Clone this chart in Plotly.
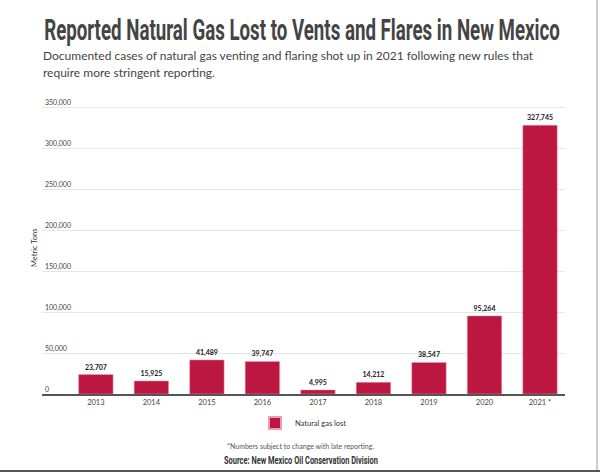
import plotly.graph_objects as go

years = ["2013", "2014", "2015", "2016", "2017", "2018", "2019", "2020", "2021 *"]
gas_lost = [23707, 15925, 41489, 39747, 4995, 14212, 38547, 95264, 327745]
y_ticks = [0, 50000, 100000, 150000, 200000, 250000, 300000, 350000]
y_tick_labels = ["0", "50,000", "100,000", "150,000", "200,000", "250,000", "300,000", "350,000"]

BAR = "#BC1740"
HEAD = "Roboto"

fig = go.Figure()
fig.add_trace(go.Bar(
    x=years, y=gas_lost, name="Natural gas lost",
    marker=dict(color=BAR, line=dict(color="#E8A0B0", width=0.5)),
    width=0.62,
    text=[f"{v:,}" for v in gas_lost], textposition="outside",
    textfont=dict(family="Lato", size=7, color="#222", weight="bold"),
    cliponaxis=False,
))

W, H = 600, 473
L, R, T, B = 42, 35, 96, 79
PW, PH = W - L - R, H - T - B
Y_TOP = 350000 * PH / 287.0  # 350,000 gridline sits ~287 px above the baseline

def px(x):
    return (x - L) / PW

def py(y):
    return (H - B - y) / PH

fig.update_layout(
    width=W, height=H,
    margin=dict(l=L, r=R, t=T, b=B, autoexpand=False),
    paper_bgcolor="white", plot_bgcolor="white",
    showlegend=True,
    legend=dict(orientation="h", x=0.5, xanchor="center", y=py(423), yanchor="middle",
                font=dict(family="Lato", size=7.5, color="#333"), itemsizing="constant",
                itemwidth=30),
    xaxis=dict(
        type="category", range=[-0.97, 8.45],
        showline=True, linecolor="#555", linewidth=1.5,
        ticks="", tickfont=dict(family="Lato", size=7.5, color="#444"),
        showgrid=False, fixedrange=True, automargin=False,
    ),
    yaxis=dict(
        range=[0, Y_TOP], tickvals=y_ticks, ticktext=y_tick_labels,
        ticklabelposition="inside top", automargin=False, fixedrange=True,
        tickfont=dict(family="Lato", size=7, color="#444"),
        showgrid=True, gridcolor="#E6E6E6", gridwidth=1,
        zeroline=False, showline=False, ticks="",
    ),
    annotations=[
        dict(text="Metric Tons", xref="paper", yref="paper", x=px(35), y=py(248),
             xanchor="center", yanchor="middle", textangle=-90, showarrow=False,
             font=dict(family="Lato", size=7.5, color="#333")),
        dict(text="<b>Reported Natural Gas Lost to Vents and Flares in New Mexico</b>",
             xref="paper", yref="paper", x=px(42), y=py(30), xanchor="left", yanchor="middle",
             showarrow=False,
             font=dict(family=HEAD, size=29, color="#444")),
        dict(text="Documented cases of natural gas venting and flaring shot up in 2021 following new rules that",
             xref="paper", yref="paper", x=px(41), y=py(55.5), xanchor="left", yanchor="middle",
             showarrow=False,
             font=dict(family="Lato", size=12, color="#444")),
        dict(text="require more stringent reporting.",
             xref="paper", yref="paper", x=px(41), y=py(73), xanchor="left", yanchor="middle",
             showarrow=False,
             font=dict(family="Lato", size=12, color="#444")),
        dict(text="*Numbers subject to change with late reporting.",
             xref="paper", yref="paper", x=px(300), y=py(446), xanchor="center", yanchor="middle",
             showarrow=False,
             font=dict(family="Lato", size=7, color="#555")),
        dict(text="<b>Source: New Mexico Oil Conservation Division</b>",
             xref="paper", yref="paper", x=px(301), y=py(460), xanchor="center", yanchor="middle",
             showarrow=False,
             font=dict(family=HEAD, size=11, color="#333")),
    ],
    shapes=[
        dict(type="line", xref="paper", yref="paper",
             x0=px(597), x1=px(597), y0=py(0), y1=py(471),
             line=dict(color="#BBB", width=1.5)),
        dict(type="line", xref="paper", yref="paper",
             x0=px(0), x1=px(600), y0=py(471), y1=py(471),
             line=dict(color="#555", width=2)),
    ],
)

# The reference's headline and source use a condensed face; narrow the real text to the same width.
post = """
document.body.style.margin = '0';
function fitText() {
  document.querySelectorAll('g.annotation text.annotation-text').forEach(function (t) {
    var s = t.textContent, target = null, left = false;
    if (s.indexOf('Reported') === 0) { target = 516; left = true; }
    else if (s.indexOf('Source:') === 0) { target = 154; }
    if (!target) return;
    t.removeAttribute('transform');
    var b = t.getBBox(), k = target / b.width;
    var cx = left ? b.x : b.x + b.width / 2;
    t.setAttribute('transform', 'translate(' + cx + ',0) scale(' + k + ',1) translate(' + (-cx) + ',0)');
  });
}
fitText();
"""

fig.write_html("out.html", post_script=post, config={"displayModeBar": False})
